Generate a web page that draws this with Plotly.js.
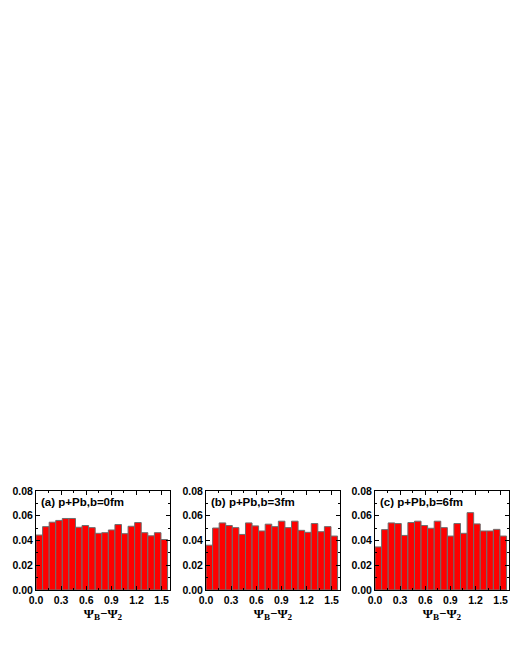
<!DOCTYPE html>
<html>
<head>
<meta charset="utf-8">
<script src="https://cdn.plot.ly/plotly-3.0.1.min.js"></script>
<style>html,body{margin:0;padding:0;background:#fff;}#chart{width:510px;height:660px;}</style>
</head>
<body>
<div id="chart"></div>
<script>
// Bin centres: 20 bins over [0, pi/2]
const binCount = 20;
const binWidth = Math.PI / 2 / binCount;
const binCenters = Array.from({length: binCount}, (_, i) => (i + 0.5) * binWidth);

const panelLabels = ["(a) p+Pb,b=0fm", "(b) p+Pb,b=3fm", "(c) p+Pb,b=6fm"];

const valuesB0 = [0.0444, 0.0512, 0.0548, 0.0562, 0.0578, 0.0578, 0.0507, 0.0521, 0.0504, 0.0458,
                  0.0463, 0.0485, 0.0529, 0.0455, 0.0515, 0.0545, 0.0463, 0.0438, 0.0463, 0.0408];
const valuesB3 = [0.0362, 0.0501, 0.0542, 0.0521, 0.0504, 0.0449, 0.0542, 0.0518, 0.0477, 0.0532,
                  0.0512, 0.0556, 0.0504, 0.0556, 0.0482, 0.0466, 0.0537, 0.0471, 0.0512, 0.0436];
const valuesB6 = [0.0348, 0.0488, 0.0542, 0.0537, 0.0441, 0.0545, 0.0556, 0.0521, 0.0499, 0.0556,
                  0.0504, 0.0436, 0.0537, 0.0458, 0.0625, 0.0534, 0.0477, 0.0477, 0.0490, 0.0436];

const xTickVals = [0.0, 0.3, 0.6, 0.9, 1.2, 1.5];
const yTickVals = [0.00, 0.02, 0.04, 0.06, 0.08];

const series = [valuesB0, valuesB3, valuesB6];
const W = 510, H = 660;
const xDomains = [[36 / W, 170 / W], [206 / W, 340 / W], [375 / W, 509 / W]];
const yDomain = [1 - 590 / H, 1 - 491 / H];

const tickFont = {family: "Liberation Sans, Arial, sans-serif", size: 10.5, color: "#000", weight: "bold"};

const data = series.map((vals, i) => ({
  type: "bar",
  x: binCenters,
  y: vals,
  width: binWidth,
  xaxis: i === 0 ? "x" : "x" + (i + 1),
  yaxis: i === 0 ? "y" : "y" + (i + 1),
  marker: {color: "#ff0000", line: {color: "#6e6e6e", width: 1}},
  showlegend: false,
  hoverinfo: "x+y"
}));

const layout = {
  width: W, height: H,
  margin: {l: 0, r: 0, t: 0, b: 0},
  paper_bgcolor: "#fff",
  plot_bgcolor: "#fff",
  bargap: 0,
  annotations: [],
  showlegend: false
};

for (let i = 0; i < 3; i++) {
  const sx = i === 0 ? "" : String(i + 1);
  layout["xaxis" + sx] = {
    domain: xDomains[i],
    anchor: "y" + sx,
    range: [0, 1.6],
    tickvals: xTickVals,
    ticktext: xTickVals.map(v => v.toFixed(1)),
    ticks: "inside", ticklen: 4, tickwidth: 1, tickcolor: "#000",
    minor: {dtick: 0.15, tick0: 0, ticks: "inside", ticklen: 2, tickcolor: "#000"},
    showline: true, linecolor: "#000", linewidth: 1, mirror: "ticks",
    showgrid: false, zeroline: false,
    tickfont: tickFont,
    title: {text: "Ψ<sub>B</sub>−Ψ<sub>2</sub>", font: {family: "Liberation Serif, Times New Roman, serif", size: 13, color: "#000", weight: "bold"}, standoff: 0}
  };
  layout["yaxis" + sx] = {
    domain: yDomain,
    anchor: "x" + sx,
    range: [0, 0.08],
    tickvals: yTickVals,
    ticktext: yTickVals.map(v => v.toFixed(2)),
    ticks: "inside", ticklen: 4, tickwidth: 1, tickcolor: "#000",
    minor: {dtick: 0.01, tick0: 0, ticks: "inside", ticklen: 2, tickcolor: "#000"},
    showline: true, linecolor: "#000", linewidth: 1, mirror: "ticks",
    showgrid: false, zeroline: false,
    tickfont: tickFont
  };
  layout.annotations.push({
    text: panelLabels[i],
    xref: "x" + sx + " domain", yref: "y" + sx + " domain",
    x: 0.02, y: 0.97, xanchor: "left", yanchor: "top",
    showarrow: false,
    font: {family: "Liberation Sans, Arial, sans-serif", size: 11.5, color: "#000", weight: "bold"}
  });
}

Plotly.newPlot("chart", data, layout, {displayModeBar: false, staticPlot: true});
</script>
</body>
</html>
